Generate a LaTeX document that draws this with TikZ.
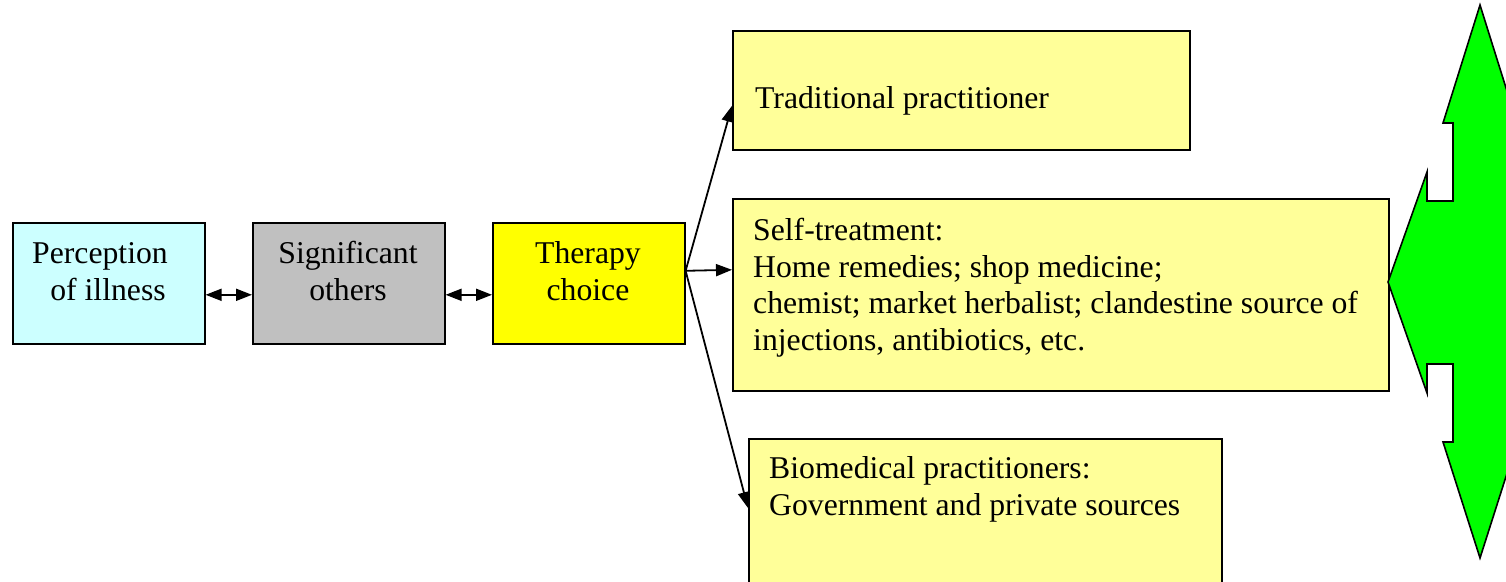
\documentclass[tikz,border=0pt]{standalone}
\usepackage{fontspec}
\setmainfont{Liberation Serif}
\usetikzlibrary{arrows.meta,calc}
\definecolor{cyanbox}{HTML}{CCFFFF}
\definecolor{graybox}{HTML}{C0C0C0}
\definecolor{yellowbox}{HTML}{FFFF00}
\definecolor{paleyellow}{HTML}{FFFF99}
\definecolor{arrowgreen}{HTML}{00FF00}
\begin{document}
\begin{tikzpicture}[x=1pt,y=-1pt,
  box/.style={draw=black, line width=1.6pt, inner sep=0pt, anchor=north west},
  txt/.style={font=\fontsize{31.7}{36.7}\selectfont, inner sep=0pt},
  conn/.style={line width=1.8pt, -{Triangle[length=16pt,width=12pt]}},
  dconn/.style={line width=1.8pt, {Triangle[length=16pt,width=12pt]}-{Triangle[length=16pt,width=12pt]}}
]
\useasboundingbox (0,0) rectangle (1506,581);

% left chain
\node[box, fill=cyanbox, minimum width=192pt, minimum height=121pt] (perc) at (12,222) {};
\node[box, fill=graybox, minimum width=192pt, minimum height=121pt] (sig) at (252,222) {};
\node[box, fill=yellowbox, minimum width=192pt, minimum height=121pt] (ther) at (492,222) {};

\node[txt, anchor=base] (perc1) at (100,263) {Perception};
\node[txt, anchor=base] (perc2) at (108,300) {of illness};
\node[txt, anchor=base] (sig1) at (348,263) {Significant};
\node[txt, anchor=base] (sig2) at (348,300) {others};
\node[txt, anchor=base] (ther1) at (588,263) {Therapy};
\node[txt, anchor=base] (ther2) at (588,300) {choice};

% right boxes
\node[box, fill=paleyellow, minimum width=457pt, minimum height=119pt] (trad) at (732,30) {};
\node[txt, anchor=base west] (trad1) at (755,108) {Traditional practitioner};

\node[box, fill=paleyellow, minimum width=656pt, minimum height=192pt] (self) at (732,198) {};
\node[txt, anchor=base west] (self1) at (753,240) {Self-treatment:};
\node[txt, anchor=base west] (self2) at (753,277) {Home remedies; shop medicine;};
\node[txt, anchor=base west] (self3) at (753,313) {chemist; market herbalist; clandestine source of};
\node[txt, anchor=base west] (self4) at (753,350) {injections, antibiotics, etc.};

\begin{scope}
\clip (0,0) rectangle (1506,581);
\node[box, fill=paleyellow, minimum width=473pt, minimum height=160pt] (bio) at (748,438) {};
\end{scope}
\node[txt, anchor=base west] (bio1) at (769,478) {Biomedical practitioners:};
\node[txt, anchor=base west] (bio2) at (769,515) {Government and private sources};

% connectors
\draw[dconn] ($(perc.east)+(0,11.5)$) -- ($(sig.west)+(0,11.5)$);
\draw[dconn] ($(sig.east)+(0,11.5)$) -- ($(ther.west)+(0,11.5)$);
\coordinate (src) at ($(ther.east)+(0,-12.5)$);
\draw[conn] (src) -- ($(trad.west)+(0,15.5)$);
\draw[conn] (src) -- ($(self.west)+(0,-25)$);
\draw[conn] (src) -- ($(bio.north west)+(0,70)$);

% green three-way arrow
\begin{scope}
\clip (0,0) rectangle (1506,581);
\draw[fill=arrowgreen, line width=1.6pt, line join=miter]
  (1480,5) -- (1517,123) -- (1507,123) -- (1507,442) -- (1517,442)
  -- (1480,558) -- (1443,442) -- (1453,442) -- (1453,364) -- (1427,364)
  -- (1427,393) -- (1388,282) -- (1427,172) -- (1427,201) -- (1453,201)
  -- (1453,123) -- (1443,123) -- cycle;
\end{scope}
\end{tikzpicture}
\end{document}
